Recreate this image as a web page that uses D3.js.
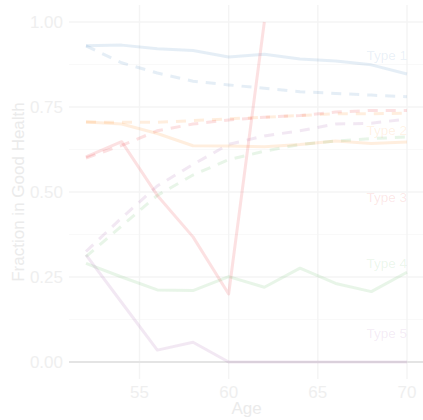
<!DOCTYPE html>
<html><head><meta charset="utf-8">
<script src="https://cdn.jsdelivr.net/npm/d3@7"></script>
<style>body{margin:0;background:#fff}svg{display:block}</style>
</head><body>
<script>
const ages = [52,54,56,58,60,62,64,66,68,70];
const typeNames = ["Type 1","Type 2","Type 3","Type 4","Type 5"];
const typeColors = ["#377EB8","#FF7F00","#E41A1C","#4DAF4A","#984EA3"];
// observed (solid)
const obsType1 = [0.930,0.932,0.921,0.916,0.897,0.905,0.891,0.885,0.874,0.847];
const obsType2 = [0.706,0.700,0.672,0.636,0.635,0.633,0.640,0.650,0.643,0.647];
const obsType3 = [0.603,0.648,0.490,0.368,0.200,1.000,null,null,null,null];
const obsType4 = [0.290,0.250,0.212,0.210,0.251,0.220,0.276,0.231,0.207,0.264];
const obsType5 = [0.315,0.175,0.035,0.058,0.000,0.000,0.000,0.000,0.000,0.000];
// fitted (dashed)
const fitType1 = [0.930,0.880,0.850,0.826,0.815,0.805,0.795,0.790,0.785,0.780];
const fitType2 = [0.706,0.705,0.705,0.710,0.715,0.720,0.725,0.730,0.730,0.732];
const fitType3 = [0.600,0.637,0.680,0.700,0.712,0.720,0.725,0.735,0.740,0.740];
const fitType4 = [0.310,0.400,0.490,0.550,0.595,0.620,0.640,0.650,0.657,0.662];
const fitType5 = [0.325,0.424,0.518,0.581,0.640,0.665,0.680,0.700,0.702,0.715];
const labelY = [0.903,0.682,0.485,0.291,0.085];
const xTicks = [55,60,65,70];
const yTicks = [0,0.25,0.5,0.75,1];
const yMinor = [0.125,0.375,0.625,0.875];

const obs = [obsType1,obsType2,obsType3,obsType4,obsType5];
const fit = [fitType1,fitType2,fitType3,fitType4,fitType5];

const W=423,H=420;
const x = d3.scaleLinear().domain([52,70]).range([86,407]);
const y = d3.scaleLinear().domain([0,1]).range([362,22]);
const X0=69, X1=423;

const svg = d3.select("body").append("svg").attr("width",W).attr("height",H)
  .style("font-family","Liberation Sans, Arial, sans-serif");

const g = svg.append("g");
g.selectAll(".ymin").data(yMinor).join("line")
  .attr("x1",X0).attr("x2",X1).attr("y1",d=>y(d)).attr("y2",d=>y(d))
  .attr("stroke","#f9f9f9").attr("stroke-width",1);
g.selectAll(".ymaj").data(yTicks).join("line")
  .attr("x1",X0).attr("x2",X1).attr("y1",d=>y(d)).attr("y2",d=>y(d))
  .attr("stroke","#f4f4f4").attr("stroke-width",1.4);
g.selectAll(".xmaj").data(xTicks).join("line")
  .attr("y1",5).attr("y2",379).attr("x1",d=>x(d)).attr("x2",d=>x(d))
  .attr("stroke","#f4f4f4").attr("stroke-width",1.4);
// zero line
g.append("line").attr("x1",X0).attr("x2",X1).attr("y1",y(0)).attr("y2",y(0))
  .attr("stroke","#e4e4e4").attr("stroke-width",2.2);

const line = d3.line().defined(d=>d[1]!=null).x(d=>x(d[0])).y(d=>y(d[1]));
const alpha = 0.13;
fit.forEach((s,i)=>{
  svg.append("path").datum(ages.map((a,j)=>[a,s[j]])).attr("d",line)
    .attr("fill","none").attr("stroke",typeColors[i]).attr("stroke-opacity",alpha)
    .attr("stroke-width",3).attr("stroke-dasharray","10,8");
});
obs.forEach((s,i)=>{
  svg.append("path").datum(ages.map((a,j)=>[a,s[j]])).attr("d",line)
    .attr("fill","none").attr("stroke",typeColors[i]).attr("stroke-opacity",alpha)
    .attr("stroke-width",3).attr("stroke-linejoin","round");
});
typeNames.forEach((t,i)=>{
  svg.append("text").attr("x",x(70)).attr("y",y(labelY[i])).attr("dy","0.35em")
    .attr("text-anchor","end").attr("font-size",13.5)
    .attr("fill",typeColors[i]).attr("fill-opacity",0.11).text(t);
});
// axes text
svg.selectAll(".xt").data(xTicks).join("text")
  .attr("x",d=>x(d)).attr("y",398).attr("text-anchor","middle")
  .attr("font-size",17).attr("fill","#efefef").text(d=>d3.format("d")(d));
svg.selectAll(".yt").data(yTicks).join("text")
  .attr("x",63).attr("y",d=>y(d)).attr("dy","0.35em").attr("text-anchor","end")
  .attr("font-size",17).attr("fill","#efefef").text(d=>d3.format(".2f")(d));
svg.append("text").attr("x",x(61)).attr("y",414).attr("text-anchor","middle")
  .attr("font-size",17).attr("fill","#ebebeb").text("Age");
svg.append("text").attr("transform","translate(24,192) rotate(-90)")
  .attr("text-anchor","middle").attr("font-size",17).attr("fill","#ebebeb")
  .text("Fraction in Good Health");
</script>
</body></html>
